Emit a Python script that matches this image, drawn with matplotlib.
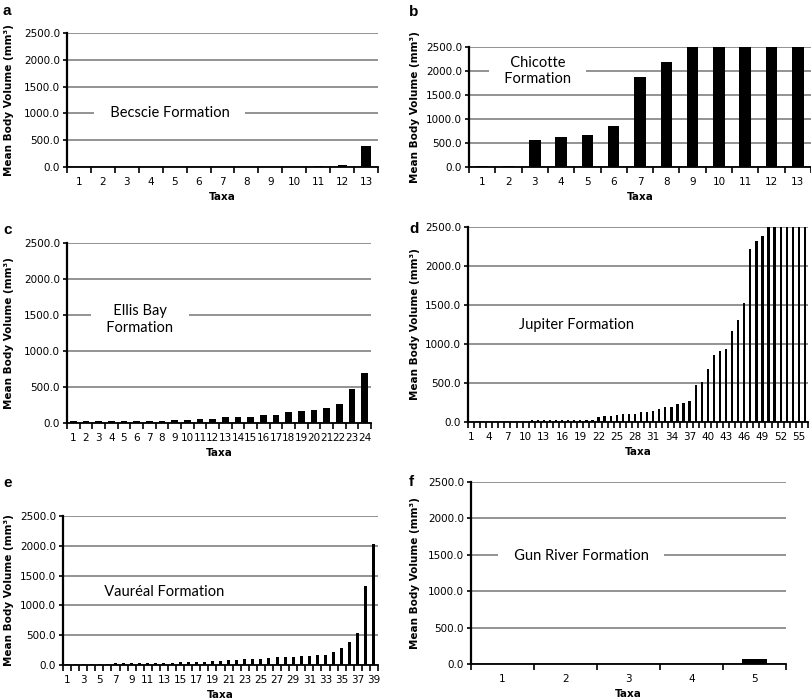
import matplotlib
matplotlib.use("Agg")
import matplotlib.pyplot as plt
from matplotlib.ticker import FixedLocator, FormatStrFormatter

# Mean body volume per taxon (mm3)
becscie = [2, 2, 2, 2, 2, 2, 2, 2, 2, 2, 25, 37, 390]
chicotte = [30, 30, 570, 615, 670, 845, 1885, 2185, 2500, 2500, 2500, 2500, 2500]
ellis_bay = [22, 22, 22, 22, 22, 22, 22, 22, 40, 36, 62, 62, 77, 90, 90, 105,
             114, 150, 164, 186, 214, 268, 468, 697]
jupiter = [5, 5, 5, 5, 5, 5, 5, 5, 5, 5,
           20, 20, 20, 20, 20,
           32, 32, 32, 32, 32, 32,
           58, 80, 80, 93, 104, 104, 104, 128, 130, 140, 162, 188, 188, 226,
           248, 270, 472, 519, 677, 853, 913, 935, 1172, 1302, 1520, 2218,
           2320, 2381, 2500, 2500, 2500, 2500, 2500, 2500, 2500]
vaureal = [25, 25, 25, 25, 25, 25, 28, 39, 39, 39, 39, 39, 33, 39, 55, 55, 55,
           55, 72, 67, 83, 89, 100, 100, 100, 117, 133, 133, 133, 156, 156,
           167, 167, 226, 285, 380, 537, 1318, 2030]
gun_river = [0, 0, 0, 0, 73]

y_ticks = [0, 500, 1000, 1500, 2000, 2500]

W, H = 812, 700
GRID = "#8a8a8a"


def panel(fig, box, values, letter, name, name_xy, bar_w, label_step=1,
          letter_xy=(3, 11)):
    """Draw one Excel style bar panel; box is (left, top, right, bottom) in pixels."""
    l, t, r, b = box
    ax = fig.add_axes([l / W, 1 - b / H, (r - l) / W, (b - t) / H])
    n = len(values)
    x = list(range(1, n + 1))
    ax.bar(x, values, width=bar_w, color="black", zorder=3)
    ax.set_xlim(0.5, n + 0.5)
    ax.set_ylim(0, 2500)

    ax.set_yticks(y_ticks)
    ax.yaxis.set_major_formatter(FormatStrFormatter("%.1f"))
    ax.yaxis.grid(True, color=GRID, linewidth=1.3, zorder=0)
    ax.set_axisbelow(True)

    # category labels in the middle, tick marks between categories
    ax.set_xticks(x[::label_step])
    ax.set_xticklabels([str(i) for i in x[::label_step]])
    ax.xaxis.set_minor_locator(FixedLocator([i + 0.5 for i in range(n + 1)]))
    ax.tick_params(axis="x", which="major", length=0, pad=7, labelsize=7.5)
    ax.tick_params(axis="x", which="minor", length=4, width=1.2, direction="out")
    ax.tick_params(axis="y", length=3, width=1.2, pad=2, labelsize=7.5)

    for side in ("top", "right"):
        ax.spines[side].set_visible(False)
    ax.spines["left"].set_linewidth(1.6)
    ax.spines["bottom"].set_linewidth(1.3)
    ax.spines["left"].set_zorder(4)
    ax.spines["bottom"].set_zorder(4)

    ax.set_ylabel("Mean Body Volume (mm³)", fontsize=7.5, fontweight="bold")
    ax.yaxis.set_label_coords((letter_xy[0] + 11 - l) / (r - l), 0.5)
    ax.set_xlabel("Taxa", fontsize=7.5, fontweight="bold")
    ax.xaxis.set_label_coords(0.5, -25 / (b - t))

    ax.text(name_xy[0], name_xy[1], name, transform=ax.transAxes,
            ha="center", va="center", fontsize=10.5, family="Lato",
            linespacing=1.25, zorder=5,
            bbox=dict(facecolor="white", edgecolor="none", pad=3))

    fig.text(letter_xy[0] / W, 1 - letter_xy[1] / H, letter, fontsize=11,
             fontweight="bold", family="Liberation Sans", ha="left", va="center")
    return ax


fig = plt.figure(figsize=(W / 100, H / 100), dpi=100)

panel(fig, (67, 33, 378, 167), becscie, "a", "   Becscie Formation   ",
      (0.33, 0.4), 0.38, letter_xy=(3, 11))
panel(fig, (469, 47, 811, 167), chicotte, "b", "   Chicotte   \n   Formation   ",
      (0.2, 0.8), 0.44, letter_xy=(409, 12))
panel(fig, (67, 243, 371, 423), ellis_bay, "c", "   Ellis Bay   \n   Formation   ",
      (0.24, 0.573), 0.53, letter_xy=(3, 230))
panel(fig, (468, 227, 808, 422), jupiter, "d", "Jupiter Formation",
      (0.32, 0.498), 0.38, label_step=3, letter_xy=(409, 229))
panel(fig, (63, 516, 378, 665), vaureal, "e", "   Vauréal Formation   ",
      (0.32, 0.49), 0.38, label_step=2, letter_xy=(3, 483))
panel(fig, (471, 482, 786, 664), gun_river, "f", "   Gun River Formation   ",
      (0.35, 0.593), 0.4, letter_xy=(409, 482))

fig.savefig("out.png", dpi=100)
